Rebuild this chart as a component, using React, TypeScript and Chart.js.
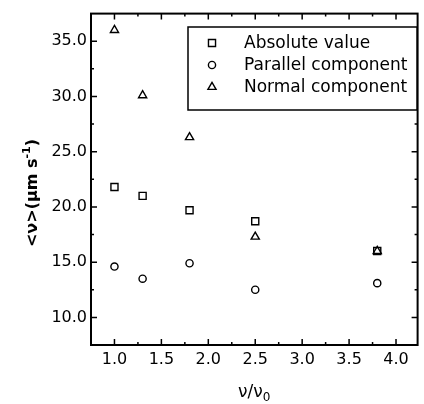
import React, { useEffect, useRef } from "react";
import { Chart, registerables } from "chart.js";
import { drawPoint } from "chart.js/helpers";

Chart.register(...registerables);

// ---- data ----
const ratio = [1.0, 1.3, 1.8, 2.5, 3.8];
const absoluteValue = [21.8, 21.0, 19.7, 18.7, 16.0];
const parallelComponent = [14.6, 13.5, 14.9, 12.5, 13.1];
const normalComponent = [36.0, 30.1, 26.3, 17.3, 16.0];
const seriesLabels = ["Absolute value", "Parallel component", "Normal component"];
const xTickValues = [1.0, 1.5, 2.0, 2.5, 3.0, 3.5, 4.0];
const yTickValues = [10, 15, 20, 25, 30, 35];
const xMinorStep = 0.25;
const yMinorStep = 2.5;

const FONT = "'DejaVu Sans', sans-serif";

const pointStyles: any[] = ["rect", "circle", "triangle"];
const pointRadii = [5, 3.6, 4.7];

function toPoints(ys: number[]) {
  return ratio.map((x, i) => ({ x, y: ys[i] }));
}

const frameAndTicks = {
  id: "frameAndTicks",
  afterDatasetsDraw(chart: any) {
    const { ctx, chartArea: a, scales } = chart;
    const xs = scales.x;
    const ys = scales.y;
    ctx.save();
    ctx.strokeStyle = "#000";
    ctx.lineWidth = 1.5;
    // ticks
    const drawXTick = (v: number, len: number) => {
      const px = xs.getPixelForValue(v);
      if (px <= a.left + 1 || px >= a.right - 1) return;
      ctx.beginPath();
      ctx.moveTo(px, a.bottom);
      ctx.lineTo(px, a.bottom - len);
      ctx.moveTo(px, a.top);
      ctx.lineTo(px, a.top + len);
      ctx.stroke();
    };
    const drawYTick = (v: number, len: number) => {
      const py = ys.getPixelForValue(v);
      if (py <= a.top + 1 || py >= a.bottom - 1) return;
      ctx.beginPath();
      ctx.moveTo(a.left, py);
      ctx.lineTo(a.left + len, py);
      ctx.moveTo(a.right, py);
      ctx.lineTo(a.right - len, py);
      ctx.stroke();
    };
    for (let k = Math.ceil(xs.min / xMinorStep); k * xMinorStep <= xs.max; k++) {
      const v = k * xMinorStep;
      const major = xTickValues.some((t) => Math.abs(t - v) < 1e-6);
      drawXTick(v, major ? 6 : 3);
    }
    for (let k = Math.ceil(ys.min / yMinorStep); k * yMinorStep <= ys.max; k++) {
      const v = k * yMinorStep;
      const major = yTickValues.some((t) => Math.abs(t - v) < 1e-6);
      drawYTick(v, major ? 6 : 3);
    }
    // frame
    ctx.lineWidth = 2;
    ctx.strokeRect(a.left, a.top, a.right - a.left, a.bottom - a.top);

    // legend
    const lx = 188, ly = 27, lw = 229, lh = 83;
    ctx.lineWidth = 1.5;
    ctx.fillStyle = "#fff";
    ctx.fillRect(lx, ly, lw, lh);
    ctx.strokeRect(lx, ly, lw, lh);
    ctx.font = `17px ${FONT}`;
    ctx.textBaseline = "middle";
    ctx.textAlign = "left";
    chart.data.datasets.forEach((ds: any, i: number) => {
      const cy = ly + 16 + i * 22;
      ctx.lineWidth = 1.4;
      ctx.strokeStyle = "#000";
      ctx.fillStyle = "rgba(0,0,0,0)";
      drawPoint(ctx, { pointStyle: ds.pointStyle, radius: ds.pointRadius, borderWidth: 1.4, rotation: 0 } as any, 212, cy);
      ctx.fillStyle = "#000";
      ctx.fillText(ds.label, 244, cy + 1);
    });

    // y title
    ctx.save();
    ctx.fillStyle = "#000";
    ctx.translate(37, 193);
    ctx.rotate(-Math.PI / 2);
    ctx.textBaseline = "alphabetic";
    ctx.textAlign = "left";
    const big = `bold 16px ${FONT}`;
    const small = `bold 11px ${FONT}`;
    const parts: [string, string, number][] = [
      ["<ν>(μm s", big, 0],
      ["-1", small, -7],
      [")", big, 0],
    ];
    let total = 0;
    parts.forEach(([t, f]) => {
      ctx.font = f;
      total += ctx.measureText(t).width;
    });
    let ux = -total / 2;
    parts.forEach(([t, f, dy]) => {
      ctx.font = f;
      ctx.fillText(t, ux, dy);
      ux += ctx.measureText(t).width;
    });
    ctx.restore();

    // x title
    ctx.save();
    ctx.fillStyle = "#000";
    ctx.textBaseline = "alphabetic";
    ctx.textAlign = "left";
    const xParts: [string, string, number][] = [
      ["ν/ν", `17px ${FONT}`, 0],
      ["0", `12px ${FONT}`, 4],
    ];
    let tw = 0;
    xParts.forEach(([t, f]) => {
      ctx.font = f;
      tw += ctx.measureText(t).width;
    });
    let tx = (a.left + a.right) / 2 - tw / 2;
    xParts.forEach(([t, f, dy]) => {
      ctx.font = f;
      ctx.fillText(t, tx, 397 + dy);
      tx += ctx.measureText(t).width;
    });
    ctx.restore();

    ctx.restore();
  },
};

export default function App() {
  const ref = useRef<HTMLCanvasElement | null>(null);
  useEffect(() => {
    if (!ref.current) return;
    const seriesData = [absoluteValue, parallelComponent, normalComponent];
    const chart = new Chart(ref.current, {
      type: "scatter",
      data: {
        datasets: seriesData.map((ys, i) => ({
          label: seriesLabels[i],
          data: toPoints(ys),
          pointStyle: pointStyles[i],
          pointRadius: pointRadii[i],
          pointBorderWidth: 1.4,
          borderColor: "#000",
          backgroundColor: "rgba(0,0,0,0)",
          pointBorderColor: "#000",
          pointBackgroundColor: "rgba(0,0,0,0)",
        })),
      },
      options: {
        animation: false,
        responsive: false,
        devicePixelRatio: 1,
        layout: { padding: { top: 11.5, right: 1, left: 0, bottom: 0 } },
        plugins: { legend: { display: false }, tooltip: { enabled: false } },
        scales: {
          x: {
            type: "linear",
            min: 0.75,
            max: 4.23,
            afterBuildTicks: (s: any) => {
              s.ticks = xTickValues.map((v) => ({ value: v }));
            },
            afterFit: (s: any) => {
              s.height = 59;
            },
            ticks: {
              callback: (v: any) => Number(v).toFixed(1),
              font: { family: FONT, size: 16 },
              color: "#000",
              padding: 5,
              maxRotation: 0,
              autoSkip: false,
            },
            grid: { display: false, drawTicks: false },
            border: { display: false },
          },
          y: {
            type: "linear",
            min: 7.5,
            max: 37.5,
            afterBuildTicks: (s: any) => {
              s.ticks = yTickValues.map((v) => ({ value: v }));
            },
            afterFit: (s: any) => {
              s.width = 91;
            },
            ticks: {
              callback: (v: any) => Number(v).toFixed(1),
              font: { family: FONT, size: 16 },
              color: "#000",
              padding: 4,
              autoSkip: false,
            },
            grid: { display: false, drawTicks: false },
            border: { display: false },
          },
        },
      },
      plugins: [frameAndTicks],
    } as any);
    return () => chart.destroy();
  }, []);
  return (
    <div style={{ position: "absolute", left: 0, top: 0, width: 424, height: 404, background: "#fff" }}>
      <canvas ref={ref} width={424} height={404} style={{ width: 424, height: 404 }} />
    </div>
  );
}
